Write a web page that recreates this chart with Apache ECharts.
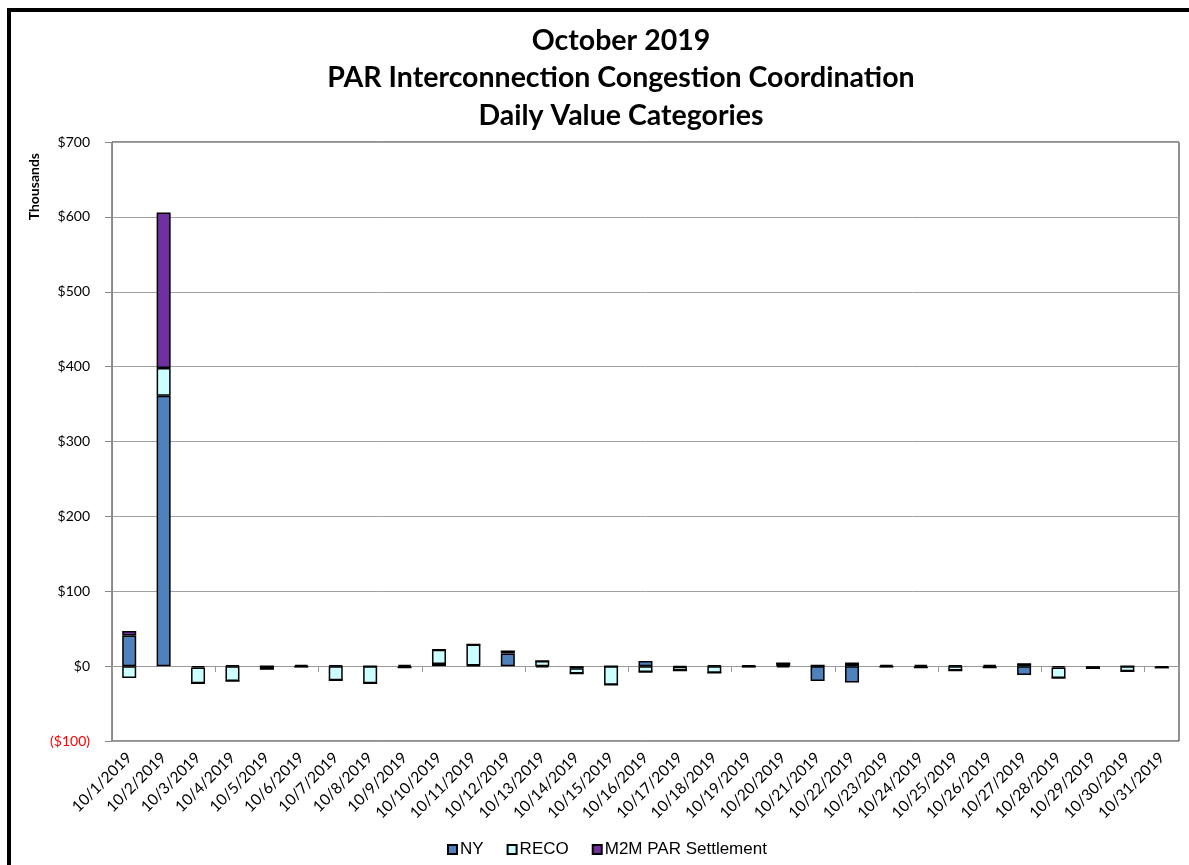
<!DOCTYPE html>
<html>
<head>
<meta charset="utf-8">
<script src="https://cdn.jsdelivr.net/npm/echarts@6/dist/echarts.min.js"></script>
<style>
html,body{margin:0;padding:0;background:#fff;}
#chart{width:1189px;height:865px;}
</style>
</head>
<body>
<div id="chart"></div>
<script>
const categories = ['10/1/2019','10/2/2019','10/3/2019','10/4/2019','10/5/2019','10/6/2019','10/7/2019','10/8/2019','10/9/2019','10/10/2019','10/11/2019','10/12/2019','10/13/2019','10/14/2019','10/15/2019','10/16/2019','10/17/2019','10/18/2019','10/19/2019','10/20/2019','10/21/2019','10/22/2019','10/23/2019','10/24/2019','10/25/2019','10/26/2019','10/27/2019','10/28/2019','10/29/2019','10/30/2019','10/31/2019'];
// values in thousands of dollars
const nyValues   = [41, 361, -2, 1, 0, 2, 1, 0, 2, 3, 1, 17, -2, -3, 0, 7, -1, 1, 1, -2, -20, -22, 2, 2, 1, 2, -12, -2, -3, 0, -2];
const recoValues = [-16, 37, -21, -20, -4, -1, -19, -23, -2, 19, 28, 3, 7, -7, -25, -8, -5, -9, -1, 4, 1, 4, -1, -2, -6, -2, 3, -14, 0, -7, 0];
const m2mValues  = [6, 208, 0, 0, 0, 0, 0, 0, 0, 0, 0, 0, 0, 0, 0, 0, 0, 0, 0, 0, 0, 0, 0, 0, 0, 0, 0, 0, 0, 0, 0];
const yTicks = { min: -100, max: 700, interval: 100 };

const chart = echarts.init(document.getElementById('chart'));
const barStyle = (color) => ({ color: color, borderColor: '#000', borderWidth: 1.5 });
chart.setOption({
  animation: false,
  title: {
    text: 'October 2019\nPAR Interconnection Congestion Coordination\nDaily Value Categories',
    left: 616, top: 17, textAlign: 'center',
    textStyle: { fontFamily: 'Lato', fontWeight: 'bold', fontSize: 28.5, lineHeight: 37.5, color: '#000' }
  },
  graphic: [
    { type: 'rect', shape: { x: 9, y: 10, width: 1300, height: 1000 }, style: { fill: 'none', stroke: '#000', lineWidth: 4 }, silent: true },
    { type: 'text', left: 27, top: 153, rotation: Math.PI / 2,
      style: { text: 'Thousands', font: 'bold 14px Lato', fill: '#000' } }
  ],
  legend: {
    bottom: 2, left: 442, itemWidth: 9, itemHeight: 9, itemGap: 23,
    icon: 'rect',
    textStyle: { fontFamily: 'Liberation Sans', fontSize: 17, color: '#000', padding: [0, 0, 0, -2] },
    data: ['NY', 'RECO', 'M2M PAR Settlement']
  },
  grid: { left: 112, right: 10, top: 142, bottom: 124, show: true, borderColor: '#222', borderWidth: 1 },
  xAxis: [
    { type: 'category', data: categories, position: 'bottom',
      axisLine: { onZero: true, lineStyle: { color: '#999' } },
      axisTick: { show: true, length: 6, lineStyle: { color: '#999' } },
      axisLabel: { show: false } },
    { type: 'category', data: categories, position: 'bottom',
      axisLine: { show: false, onZero: false }, axisTick: { show: false },
      axisLabel: { rotate: 45, interval: 0, margin: 14, fontFamily: 'Lato', fontSize: 15.5, color: '#000' } }
  ],
  yAxis: {
    type: 'value', min: yTicks.min, max: yTicks.max, interval: yTicks.interval,
    axisLine: { show: true, lineStyle: { color: '#888' } },
    axisTick: { show: true, length: 7, lineStyle: { color: '#888' } },
    splitLine: { lineStyle: { color: '#a0a0a0' } },
    axisLabel: {
      margin: 22, fontFamily: 'Lato', fontSize: 14,
      formatter: v => v < 0 ? '($' + Math.abs(v) + ')' : '$' + v,
      color: v => (Number(v) < 0 ? '#ff0000' : '#000')
    }
  },
  series: [
    { name: 'NY', type: 'bar', stack: 'a', barWidth: 14, data: nyValues, itemStyle: barStyle('#4F81BD') },
    { name: 'RECO', type: 'bar', stack: 'a', barWidth: 14, data: recoValues, itemStyle: barStyle('#CCFFFF') },
    { name: 'M2M PAR Settlement', type: 'bar', stack: 'a', barWidth: 14, data: m2mValues, itemStyle: barStyle('#7030A0') }
  ]
});
</script>
</body>
</html>
